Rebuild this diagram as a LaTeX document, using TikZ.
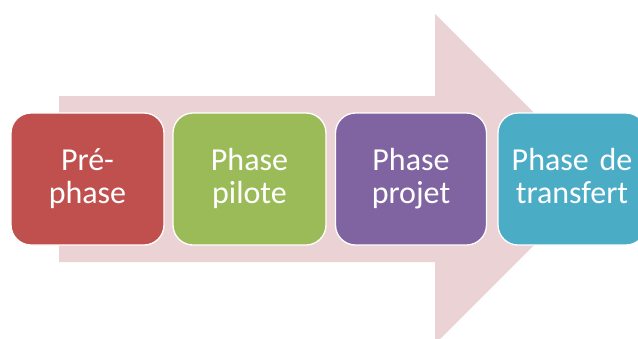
\documentclass[tikz,border=0pt]{standalone}
\usepackage{fontspec}
\setmainfont{Carlito}
\definecolor{arrowpink}{HTML}{EAD2D5}
\definecolor{cred}{HTML}{C0504D}
\definecolor{cgreen}{HTML}{9BBB59}
\definecolor{cpurple}{HTML}{8064A2}
\definecolor{cblue}{HTML}{4BACC6}
\newcommand{\lnstrut}{\rule[-8pt]{0pt}{32pt}}
\tikzset{
  phasebox/.style={rectangle, rounded corners=20pt, draw=white, line width=1.3pt,
    minimum height=132pt, text=white, align=center,
    font=\fontsize{32}{33}\selectfont, inner sep=0pt}
}
\begin{document}
\begin{tikzpicture}[x=1pt,y=-1pt]
\useasboundingbox (0,0) rectangle (638,338);
\clip (0,0) rectangle (638,338);
\fill[white] (0,0) rectangle (638,338);
\fill[arrowpink] (59,96) -- (435,96) -- (435,14) -- (600,179) -- (435,344) -- (435,262) -- (59,262) -- cycle;
\node[phasebox, fill=cred, minimum width=153pt] (pre) at (87.5,179) {\lnstrut Pré-\\\lnstrut phase};
\node[phasebox, fill=cgreen, minimum width=153pt] (pilote) at (249.5,179) {\lnstrut Phase\\\lnstrut pilote};
\node[phasebox, fill=cpurple, minimum width=151pt] (projet) at (411,179) {\lnstrut Phase\\\lnstrut projet};
\node[phasebox, fill=cblue, minimum width=148pt, text width=148pt] (transfert) at (572,179) {\lnstrut Phase de\\\lnstrut transfert};
\end{tikzpicture}
\end{document}
